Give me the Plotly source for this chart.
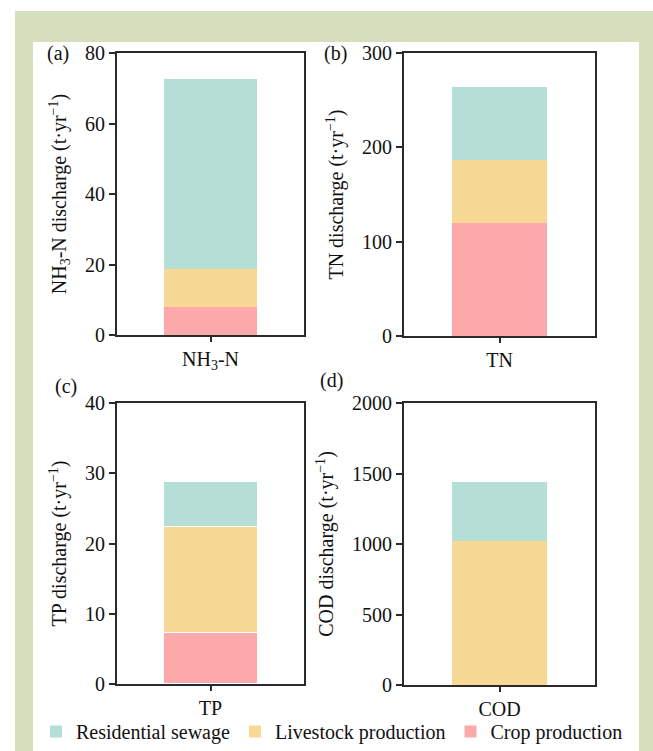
import plotly.graph_objects as go

W, H = 653, 751

categories = ["NH<sub>3</sub>-N", "TN", "TP", "COD"]
panel_labels = ["(a)", "(b)", "(c)", "(d)"]
y_titles = [
    "NH<sub>3</sub>-N discharge (t·yr<sup>−1</sup>)",
    "TN discharge (t·yr<sup>−1</sup>)",
    "TP discharge (t·yr<sup>−1</sup>)",
    "COD discharge (t·yr<sup>−1</sup>)",
]
y_max = [80, 300, 40, 2000]
y_dtick = [20, 100, 10, 500]

series_names = ["Crop production", "Livestock production", "Residential sewage"]
crop = [7.9, 120, 7.3, 0]
livestock = [10.7, 67, 15.1, 1022]
residential = [54.0, 77, 6.5, 421]
series_values = [crop, livestock, residential]
series_colors = ["#fda9ab", "#f7d995", "#b5ded6"]

FONT = "Liberation Serif"
TXT = "#111111"
AX = "#2a2a2a"

def px_x(p):
    return p / W

def px_y(p):
    return 1 - p / H

# axis rectangles in pixels: (x0, x1, ytop, ybottom)
rects = [(117, 304, 53, 335), (404, 595, 53, 336), (117, 304, 403, 684), (404, 595, 403, 685)]
standoffs = [13, 13, 13, 13]

fig = go.Figure()
layout = {}
for i, cat in enumerate(categories):
    xa = "x" if i == 0 else f"x{i+1}"
    ya = "y" if i == 0 else f"y{i+1}"
    for s, name in enumerate(series_names):
        fig.add_trace(go.Bar(
            x=[cat], y=[series_values[s][i]], name=name,
            marker=dict(color=series_colors[s],
                        line=dict(color="white", width=1.2 if cat == "TP" else 0)),
            width=0.5, xaxis=xa, yaxis=ya,
            legendgroup=name, showlegend=(i == 0),
        ))
    x0, x1, yt, yb = rects[i]
    key_x = "xaxis" if i == 0 else f"xaxis{i+1}"
    key_y = "yaxis" if i == 0 else f"yaxis{i+1}"
    layout[key_x] = dict(
        domain=[px_x(x0), px_x(x1)], anchor=ya, type="category",
        showline=True, linecolor=AX, linewidth=1.8, mirror=True,
        ticks="outside", ticklen=5, tickwidth=1.8, tickcolor=AX,
        tickfont=dict(family=FONT, size=20, color=TXT),
        showgrid=False, zeroline=False, automargin=False,
    )
    layout[key_y] = dict(
        domain=[px_y(yb), px_y(yt)], anchor=xa,
        range=[0, y_max[i]], dtick=y_dtick[i], tick0=0,
        showline=True, linecolor=AX, linewidth=1.8, mirror=True,
        ticks="outside", ticklen=6, tickwidth=1.8, tickcolor=AX,
        tickfont=dict(family=FONT, size=20, color=TXT),
        title=dict(text=y_titles[i], font=dict(family=FONT, size=20, color=TXT),
                   standoff=standoffs[i]),
        showgrid=False, zeroline=False, automargin=False,
    )

label_pos = [(58, 53), (335, 53), (66, 386), (331, 381)]
annotations = []
for (lx, ly), lab in zip(label_pos, panel_labels):
    annotations.append(dict(
        text=lab, x=px_x(lx), y=px_y(ly), xref="paper", yref="paper",
        xanchor="center", yanchor="middle", showarrow=False,
        font=dict(family=FONT, size=20, color=TXT),
    ))

shapes = [
    dict(type="rect", xref="paper", yref="paper", layer="below",
         x0=px_x(15), x1=1.0, y0=0, y1=px_y(11),
         fillcolor="#d6dfbd", line=dict(width=0)),
    dict(type="rect", xref="paper", yref="paper", layer="below",
         x0=px_x(33), x1=px_x(639), y0=0, y1=px_y(42),
         fillcolor="white", line=dict(width=0)),
]

fig.update_layout(
    width=W, height=H,
    margin=dict(l=0, r=0, t=0, b=0, autoexpand=False),
    paper_bgcolor="white", plot_bgcolor="white",
    barmode="stack",
    showlegend=True,
    legend=dict(orientation="h", xref="container", yref="container",
                x=px_x(36), y=-0.008, xanchor="left", yanchor="bottom",
                traceorder="reversed", font=dict(family=FONT, size=20, color=TXT),
                bgcolor="rgba(0,0,0,0)", itemclick=False, borderwidth=0),
    annotations=annotations,
    shapes=shapes,
    **layout,
)

fig.write_html("out.html")
